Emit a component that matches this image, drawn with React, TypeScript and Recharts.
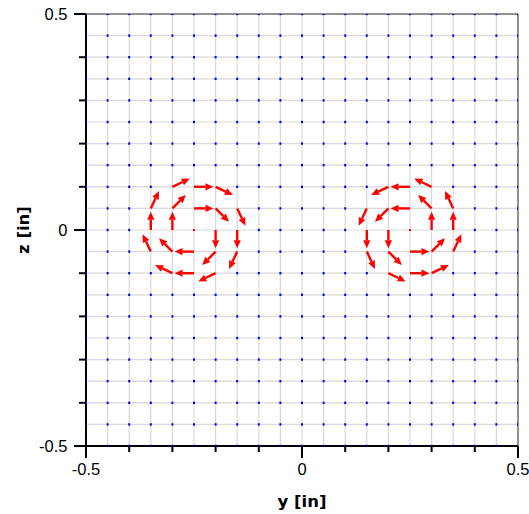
import React from 'react'
import { ScatterChart, Scatter, XAxis, YAxis, ReferenceLine, Label } from 'recharts'

// grid every 0.05 in, ticks every 0.1 in
const gridValues = [
  -0.5, -0.45, -0.4, -0.35, -0.3, -0.25, -0.2, -0.15, -0.1, -0.05, 0,
  0.05, 0.1, 0.15, 0.2, 0.25, 0.3, 0.35, 0.4, 0.45, 0.5,
]
const majorTicks = [-0.5, -0.4, -0.3, -0.2, -0.1, 0, 0.1, 0.2, 0.3, 0.4, 0.5]
const labeledTicks = [-0.5, 0, 0.5]

// [y, z, dy, dz] in inches
const leftVortex: number[][] = [
  [-0.25, 0.1, 0.045, 0],
  [-0.25, 0.05, 0.045, 0],
  [-0.2, 0.1, 0.04, -0.019],
  [-0.2, 0.05, 0.031, -0.031],
  [-0.15, 0.05, 0.019, -0.04],
  [-0.2, 0, 0, -0.042],
  [-0.15, 0, 0, -0.042],
  [-0.2, -0.05, -0.031, -0.031],
  [-0.15, -0.05, -0.019, -0.04],
  [-0.2, -0.1, -0.04, -0.019],
  [-0.25, -0.05, -0.045, 0],
  [-0.25, -0.1, -0.045, 0],
  [-0.3, -0.05, -0.031, 0.031],
  [-0.3, -0.1, -0.04, 0.019],
  [-0.35, -0.05, -0.019, 0.04],
  [-0.35, 0, 0, 0.042],
  [-0.3, 0, 0, 0.042],
  [-0.35, 0.05, 0.019, 0.04],
  [-0.3, 0.05, 0.031, 0.031],
  [-0.3, 0.1, 0.04, 0.019],
  [-0.25, 0, 0, 0],
]

const rightVortex: number[][] = [
  [0.25, 0.1, -0.045, 0],
  [0.25, 0.05, -0.045, 0],
  [0.2, 0.1, -0.04, -0.019],
  [0.2, 0.05, -0.031, -0.031],
  [0.15, 0.05, -0.019, -0.04],
  [0.15, 0, 0, -0.042],
  [0.2, 0, 0, -0.042],
  [0.15, -0.05, 0.019, -0.04],
  [0.2, -0.05, 0.031, -0.031],
  [0.2, -0.1, 0.04, -0.019],
  [0.25, -0.05, 0.045, 0],
  [0.25, -0.1, 0.045, 0],
  [0.3, -0.05, 0.031, 0.031],
  [0.3, -0.1, 0.04, 0.019],
  [0.35, -0.05, 0.019, 0.04],
  [0.35, 0, 0, 0.042],
  [0.3, 0, 0, 0.042],
  [0.3, 0.05, -0.031, 0.031],
  [0.35, 0.05, -0.019, 0.04],
  [0.3, 0.1, -0.04, 0.019],
  [0.25, 0, 0, 0],
]

const vectors = [...leftVortex, ...rightVortex]
const key = (a: number, b: number) => `${a.toFixed(2)},${b.toFixed(2)}`
const vectorKeys = new Set(vectors.map(v => key(v[0], v[1])))

// zero vectors at the remaining grid nodes
const zeroPoints: { y: number; z: number }[] = []
gridValues.forEach(y => gridValues.forEach(z => {
  if (!vectorKeys.has(key(y, z))) zeroPoints.push({ y, z })
}))

const FONT = '"Liberation Sans", Arial, sans-serif'
const TITLE_FONT = '"DejaVu Sans", Verdana, sans-serif'

const Arrow = ({ x1, y1, x2, y2 }: any) => {
  const dx = x2 - x1, dy = y2 - y1
  const len = Math.hypot(dx, dy)
  if (len < 0.5) return <rect x={x1 - 1} y={y1 - 1} width={2} height={2} fill="#ff0000" />
  const ux = dx / len, uy = dy / len
  const h = 8, w = 3.6
  const bx = x2 - ux * h, by = y2 - uy * h
  return (
    <g>
      <line x1={x1} y1={y1} x2={bx} y2={by} stroke="#ff0000" strokeWidth={2.4} />
      <polygon
        points={`${x2},${y2} ${bx - uy * w},${by + ux * w} ${bx + uy * w},${by - ux * w}`}
        fill="#ff0000"
      />
    </g>
  )
}

const XTick = ({ x, y, payload }: any) => {
  const labeled = labeledTicks.some(t => Math.abs(t - payload.value) < 1e-9)
  return (
    <g>
      <line x1={x} y1={y} x2={x} y2={y + (labeled ? 12 : 6)} stroke="#000" strokeWidth={2} />
      {labeled && (
        <text x={x} y={y + 29} textAnchor="middle" fontSize={16.5} fontFamily={FONT} fill="#000">
          {payload.value}
        </text>
      )}
    </g>
  )
}

const YTick = ({ x, y, payload }: any) => {
  const labeled = labeledTicks.some(t => Math.abs(t - payload.value) < 1e-9)
  return (
    <g>
      <line x1={x} y1={y} x2={x - (labeled ? 12 : 7)} y2={y} stroke="#000" strokeWidth={2} />
      {labeled && (
        <text x={x - 18.5} y={y + 6} textAnchor="end" fontSize={16.5} fontFamily={FONT} fill="#000">
          {payload.value}
        </text>
      )}
    </g>
  )
}

const Dot = ({ cx, cy }: any) => (
  <rect x={cx - 1} y={cy - 1.2} width={2} height={2.4} fill="#0000ff" />
)

export default function App() {
  return (
    <div style={{ position: 'absolute', left: 0, top: 0, background: '#fff' }}>
      <ScatterChart width={529} height={514} margin={{ top: 14, right: 11, bottom: 0, left: 0 }}>
        <XAxis
          type="number"
          dataKey="y"
          domain={[-0.5, 0.5]}
          ticks={majorTicks}
          interval={0}
          allowDataOverflow
          height={68}
          tickSize={0}
          tickMargin={0}
          tickLine={false}
          axisLine={{ stroke: '#000', strokeWidth: 2 }}
          tick={<XTick />}
        >
          <Label
            content={({ viewBox }: any) => (
              <text x={viewBox.x + viewBox.width / 2} y={507} textAnchor="middle"
                fontSize={16.5} fontWeight="bold" fontFamily={TITLE_FONT} fill="#000">
                y [in]
              </text>
            )}
          />
        </XAxis>
        <YAxis
          type="number"
          dataKey="z"
          domain={[-0.5, 0.5]}
          ticks={majorTicks}
          interval={0}
          allowDataOverflow
          width={86}
          tickSize={0}
          tickMargin={0}
          tickLine={false}
          axisLine={{ stroke: '#000', strokeWidth: 2 }}
          tick={<YTick />}
        >
          <Label
            content={({ viewBox }: any) => {
              const cy = viewBox.y + viewBox.height / 2
              return (
                <text x={29} y={cy} transform={`rotate(-90, 29, ${cy})`} textAnchor="middle"
                  fontSize={16.5} fontWeight="bold" fontFamily={TITLE_FONT} fill="#000">
                  z [in]
                </text>
              )
            }}
          />
        </YAxis>
        {gridValues.slice(1, -1).map(v => (
          <ReferenceLine key={`gx${v}`} x={v} stroke="#d9d9d9" strokeWidth={1.2} />
        ))}
        {gridValues.slice(1, -1).map(v => (
          <ReferenceLine key={`gy${v}`} y={v} stroke="#d9d9d9" strokeWidth={1.2} />
        ))}
        <ReferenceLine x={0.5} stroke="#222" strokeWidth={1} />
        <ReferenceLine y={0.5} stroke="#222" strokeWidth={1} />
        <Scatter data={zeroPoints} shape={<Dot />} isAnimationActive={false} />
        {vectors.map((v, i) => (
          <ReferenceLine
            key={`v${i}`}
            segment={[{ x: v[0], y: v[1] }, { x: v[0] + v[2], y: v[1] + v[3] }]}
            shape={(p: any) => <Arrow {...p} />}
          />
        ))}
      </ScatterChart>
    </div>
  )
}
